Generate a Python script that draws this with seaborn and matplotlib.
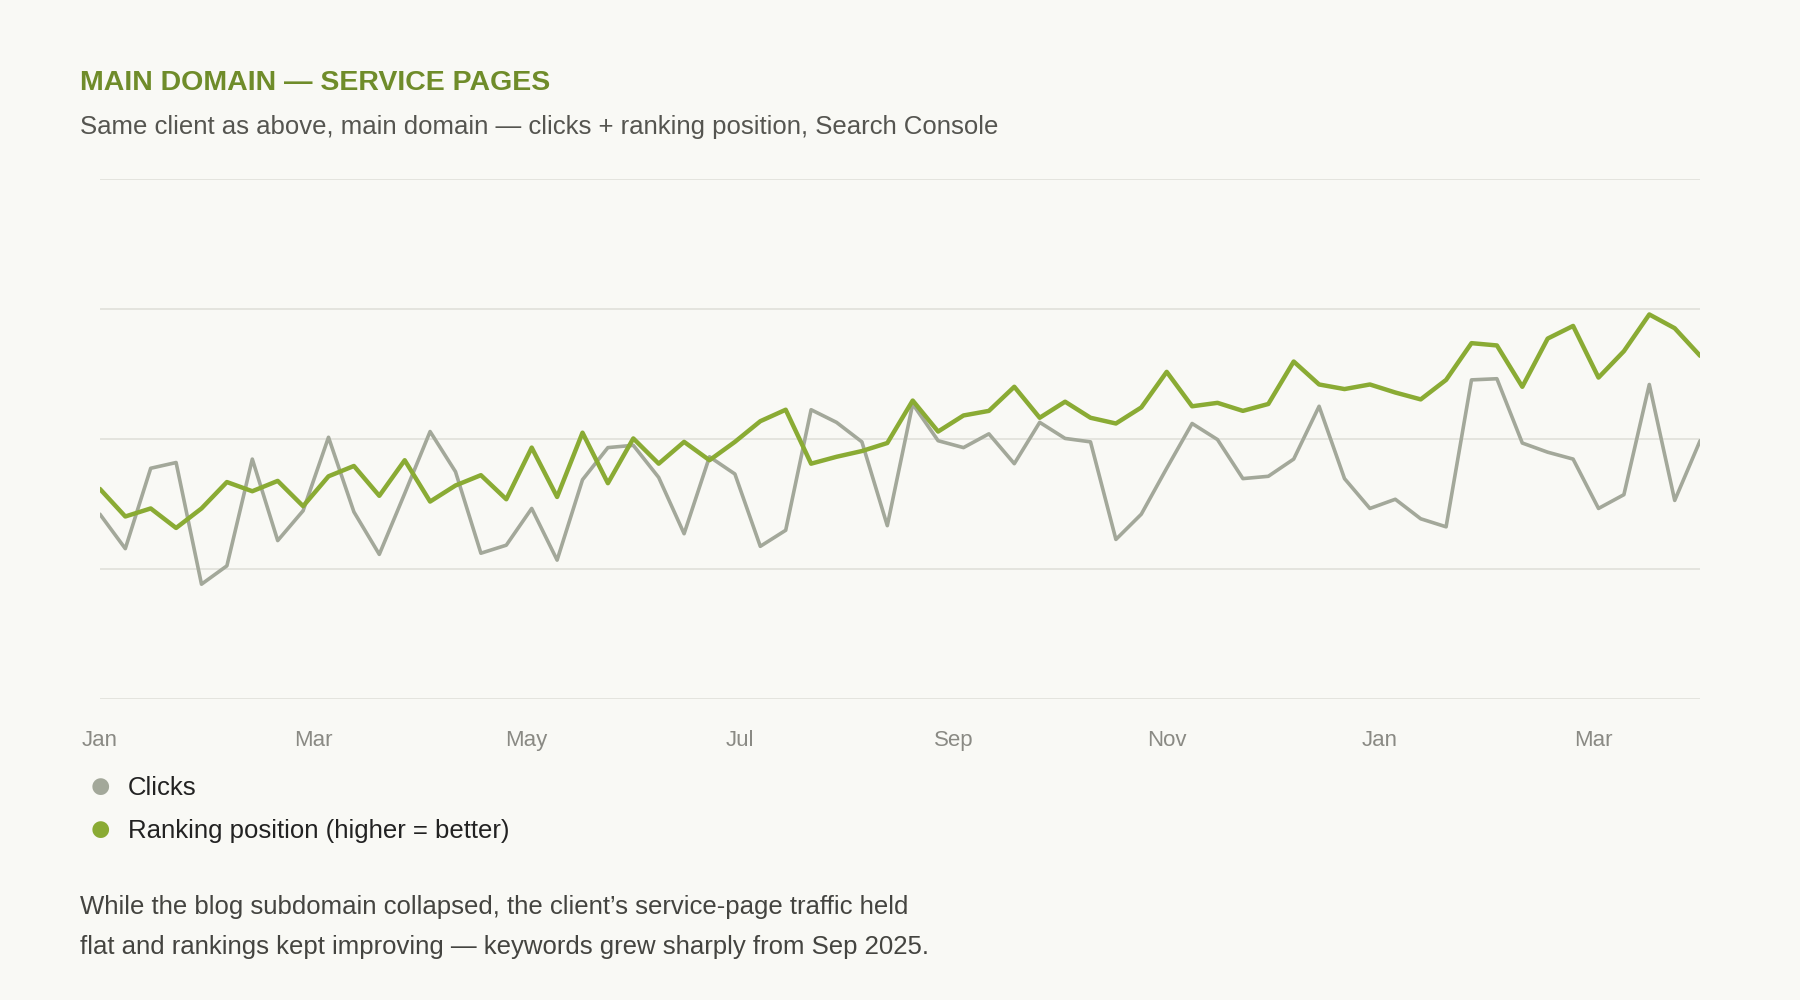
import matplotlib
matplotlib.use("Agg")
import matplotlib.pyplot as plt
import seaborn as sns
import pandas as pd
import numpy as np

sns.set_theme(style="white")
plt.rcParams['font.family'] = ['Liberation Sans', 'DejaVu Sans']

# pixel-read values converted to 0..4 scale
clicks_px = [448,478,408,403,509,493,400,471,445,381,446,483,430,376,411,482,475,443,488,418,
             390,388,416,465,398,413,476,462,357,368,385,458,352,384,390,378,404,368,382,385,
             470,448,408,369,383,417,415,400,354,417,443,435,452,459,331,330,386,394,400,443,
             431,335,436,384]
rank_px = [426,450,443,460,443,420,428,419,441,415,406,432,401,437,423,414,435,390,433,377,
           421,382,404,385,401,385,367,357,404,398,393,386,349,376,362,358,337,364,350,364,
           369,355,324,354,351,358,352,315,335,339,335,342,348,331,299,301,337,295,284,329,
           306,274,286,310]
clicks = [(609 - v) / 113.25 for v in clicks_px]
ranking = [(609 - v) / 113.25 for v in rank_px]
week = list(range(len(clicks)))
tick_labels = ["Jan", "Mar", "May", "Jul", "Sep", "Nov", "Jan", "Mar"]
tick_weeks = [0, 8.4, 16.8, 25.2, 33.6, 42.0, 50.4, 58.8]

df = pd.DataFrame({"week": week, "Clicks": clicks, "Ranking": ranking})

bg = "#f9f9f5"
gray = "#a3a89a"
green = "#8aab34"

fig = plt.figure(figsize=(18, 10), dpi=100, facecolor=bg)
ax = fig.add_axes([0.0555, 0.301, 0.889, 0.520], facecolor=bg)
sns.lineplot(data=df, x="week", y="Clicks", ax=ax, color=gray, linewidth=2.6)
sns.lineplot(data=df, x="week", y="Ranking", ax=ax, color=green, linewidth=3.2)
ax.set_ylim(0, 4)
ax.set_xlim(week[0], week[-1])
ax.set_yticks([0, 1, 2, 3, 4])
ax.set_yticklabels([])
ax.grid(axis="y", color="#e0e0da", linewidth=1.2)
ax.tick_params(axis="y", length=0)
ax.set_xticks(tick_weeks)
ax.set_xticklabels(tick_labels)
ax.tick_params(axis="x", length=0, labelsize=16, labelcolor="#8a8a84", pad=22)
for s in ax.spines.values():
    s.set_visible(False)
ax.set_xlabel("")
ax.set_ylabel("")

fig.text(0.0446, 0.917, "MAIN DOMAIN — SERVICE PAGES", fontsize=20.5, fontweight="bold",
         color="#6f8c2a", va="center")
fig.text(0.0446, 0.873, "Same client as above, main domain — clicks + ranking position, Search Console",
         fontsize=18.5, color="#555550", va="center")

for y, c, lab in [(0.212, gray, "Clicks"), (0.169, green, "Ranking position (higher = better)")]:
    fig.text(0.0555, y, "●", fontsize=28, color=c, ha="center", va="center")
    fig.text(0.071, y, lab, fontsize=18.5, color="#222222", va="center")

fig.text(0.0446, 0.093, "While the blog subdomain collapsed, the client’s service-page traffic held",
         fontsize=18.5, color="#444440", va="center")
fig.text(0.0446, 0.053, "flat and rankings kept improving — keywords grew sharply from Sep 2025.",
         fontsize=18.5, color="#444440", va="center")

fig.savefig("out.png", dpi=100, facecolor=bg)
